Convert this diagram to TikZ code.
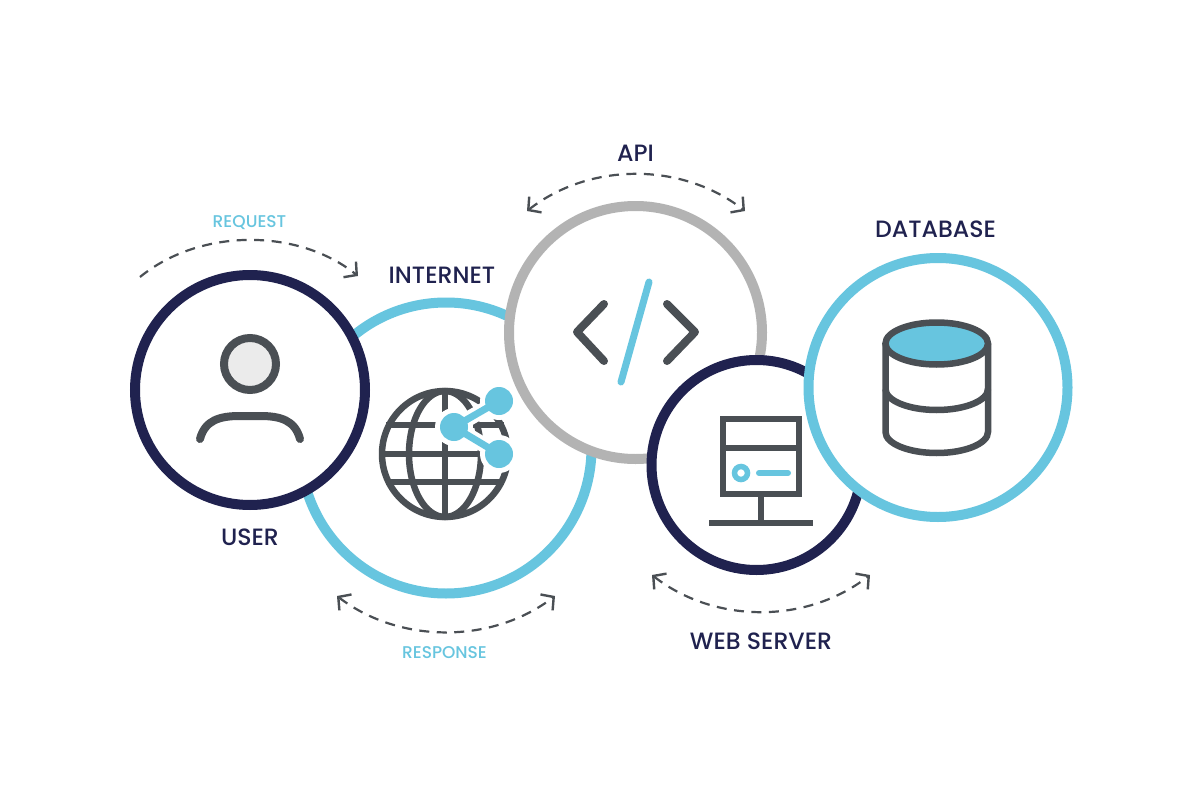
\documentclass[tikz,border=0pt]{standalone}
\usepackage{fontspec}
\setmainfont{Poppins Medium}
\usetikzlibrary{arrows.meta}
\definecolor{navy}{HTML}{20224F}
\definecolor{sky}{HTML}{67C5DF}
\definecolor{midgray}{HTML}{B3B3B3}
\definecolor{icon}{HTML}{4A4F54}
\tikzset{
  x=1pt,y=-1pt,
  ring/.style={circle,draw=#1,fill=white,inner sep=0pt},
  iconline/.style={draw=icon,line width=#1},
  skyline/.style={draw=sky,line width=#1},
  flow/.style={draw=icon,line width=2.2pt,dash pattern=on 10pt off 7.5pt,
    arrows={-Straight Barb[length=9pt,width=20pt,line width=2.4pt]}},
  flowboth/.style={flow,arrows={Straight Barb[length=9pt,width=20pt,line width=2.4pt]-Straight Barb[length=9pt,width=20pt,line width=2.4pt]}},
  title/.style={text=navy,font=\fontsize{23.6}{26}\selectfont,inner sep=0pt},
  sublabel/.style={text=sky,font=\fontsize{17}{19}\selectfont,inner sep=0pt},
  dotnode/.style={circle,fill=sky,inner sep=0pt,minimum size=28pt}
}
\begin{document}
\begin{tikzpicture}
\useasboundingbox (0,0) rectangle (1200,800);
\fill[white] (0,0) rectangle (1200,800);
% rings
\node[ring=sky,line width=10pt,minimum size=291pt] (internet) at (446,448) {};
\node[ring=midgray,line width=10pt,minimum size=253pt] (api) at (635.5,332.5) {};
\node[ring=navy,line width=10pt,minimum size=210pt] (web) at (756.5,465) {};
\node[ring=navy,line width=10pt,minimum size=230pt] (user) at (250,390) {};
\node[ring=sky,line width=10pt,minimum size=259pt] (db) at (938,387.5) {};
% user icon
\node[circle,draw=icon,fill=black!8,line width=8pt,minimum size=52pt,inner sep=0pt] (head) at (250,364) {};
\draw[iconline=8pt,line cap=round] (200,439) .. controls (205,420) and (220,416) .. (240,416) -- (260,416) .. controls (280,416) and (295,420) .. (300,439);
% globe
\begin{scope}[iconline=6.5pt]
\draw (445,454) circle[radius=63];
\draw (445,454) ellipse[x radius=36,y radius=63];
\draw (445,391) -- (445,517);
\draw (386,425) -- (504,425);
\draw (382,454) -- (508,454);
\draw (386,482) -- (504,482);
\end{scope}
% share icon
\coordinate (shareA) at (499,401);
\coordinate (shareB) at (454,427);
\coordinate (shareC) at (499,454);
\draw[white,line width=15pt] (shareA) -- (shareB) -- (shareC);
\fill[white] (shareA) circle[radius=19] (shareB) circle[radius=19] (shareC) circle[radius=19];
\draw[skyline=7pt] (shareA) -- (shareB) -- (shareC);
\node[dotnode] (dotA) at (shareA) {};
\node[dotnode] (dotB) at (shareB) {};
\node[dotnode] (dotC) at (shareC) {};
% code icon
\draw[iconline=8pt,line cap=round,line join=round] (604,304) -- (577,332) -- (604,361);
\draw[iconline=8pt,line cap=round,line join=round] (667,304) -- (695,332) -- (667,361);
\draw[skyline=7pt,line cap=round] (649,282) -- (621,382);
% server icon
\draw[iconline=6pt] (723,419) rectangle (799,494);
\draw[iconline=6pt] (723,448) -- (799,448);
\draw[iconline=6pt] (761,494) -- (761,523);
\draw[iconline=6pt] (709,523) -- (813,523);
\draw[skyline=5.5pt] (741,473) circle[radius=6.5];
\draw[skyline=6pt,line cap=round] (759,473) -- (788,473);
% database icon
\draw[iconline=6.5pt] (885.5,344) -- (885.5,432) arc[start angle=180,end angle=360,x radius=51.25,y radius=-21] -- (988,344);
\draw[iconline=6.5pt] (885.5,389) arc[start angle=180,end angle=360,x radius=51.25,y radius=-21];
\draw[iconline=6.5pt,fill=sky] (936.75,343.5) ellipse[x radius=51.25,y radius=21];
% flows
\coordinate (reqS) at (140,277); \coordinate (reqE) at (358,276);
\coordinate (apiS) at (527,211); \coordinate (apiE) at (745,211);
\coordinate (resS) at (337,596); \coordinate (resE) at (555,596);
\coordinate (webS) at (652,575); \coordinate (webE) at (870,575);
\draw[flow] (reqS) .. controls (200,228) and (298,228) .. (reqE);
\draw[flowboth] (apiS) .. controls (590,162) and (682,162) .. (apiE);
\draw[flowboth] (resS) .. controls (400,644) and (492,644) .. (resE);
\draw[flowboth] (webS) .. controls (715,624) and (807,624) .. (webE);
% labels
\node[title] (lapi) at (635.5,153) {API};
\node[title] (ldb) at (935.5,229) {DATABASE};
\node[title] (lint) at (442,275) {INTERNET};
\node[title] (luser) at (250,537) {USER};
\node[title] (lweb) at (761,641) {WEB SERVER};
\node[sublabel] (lreq) at (249.5,222.5) {REQUEST};
\node[sublabel] (lres) at (444.5,652.5) {RESPONSE};
\end{tikzpicture}
\end{document}
